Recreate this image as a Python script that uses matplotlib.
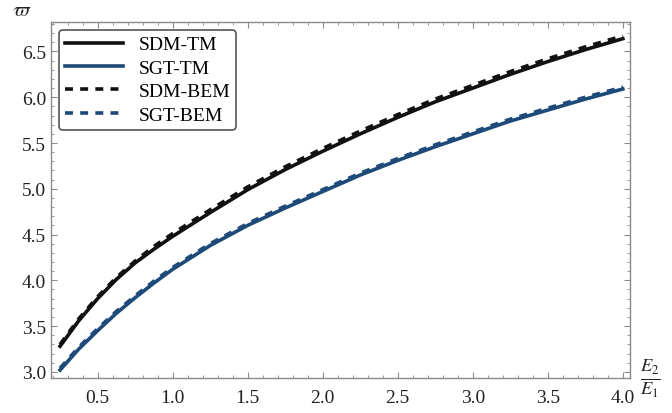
import numpy as np
import matplotlib
import matplotlib.pyplot as plt
from matplotlib.ticker import MultipleLocator

matplotlib.use("Agg")

plt.rcParams['font.family'] = ['Liberation Serif', 'DejaVu Serif']
plt.rcParams['mathtext.fontset'] = 'stix'

# values
ratio = [0.25, 0.375, 0.5, 0.625, 0.75, 0.875, 1.0, 1.25, 1.5, 1.75, 2.0, 2.25, 2.5, 2.75, 3.0, 3.25, 3.5, 3.75, 4.0]
sdm_tm = [3.28, 3.56, 3.80, 4.01, 4.19, 4.34, 4.48, 4.74, 4.99, 5.21, 5.41, 5.60, 5.78, 5.95, 6.10, 6.25, 6.39, 6.52, 6.64]
sgt_tm = [3.02, 3.25, 3.45, 3.64, 3.81, 3.97, 4.12, 4.38, 4.60, 4.79, 4.97, 5.15, 5.31, 5.46, 5.60, 5.74, 5.86, 5.98, 6.09]
sdm_bem = [3.30, 3.58, 3.82, 4.03, 4.21, 4.37, 4.51, 4.77, 5.02, 5.24, 5.44, 5.63, 5.81, 5.98, 6.13, 6.28, 6.42, 6.55, 6.67]
sgt_bem = [3.04, 3.27, 3.47, 3.66, 3.83, 3.99, 4.14, 4.40, 4.62, 4.81, 4.99, 5.17, 5.33, 5.48, 5.62, 5.76, 5.88, 6.00, 6.11]

black = '#111111'
blue = '#1d4a78'

fig = plt.figure(figsize=(6.72, 4.14), dpi=100)
ax = fig.add_axes([0.076, 0.085, 0.862, 0.859])

ax.plot(ratio, sdm_tm, color=black, lw=2.6, label='SDM-TM')
ax.plot(ratio, sgt_tm, color=blue, lw=2.6, label='SGT-TM')
ax.plot(ratio, sdm_bem, color=black, lw=2.6, ls=(0, (2.2, 2.0)), label='SDM-BEM')
ax.plot(ratio, sgt_bem, color=blue, lw=2.6, ls=(0, (2.2, 2.0)), label='SGT-BEM')

ax.set_xlim(0.19, 4.05)
ax.set_ylim(2.935, 6.82)
ax.xaxis.set_major_locator(MultipleLocator(0.5))
ax.xaxis.set_minor_locator(MultipleLocator(0.1))
ax.yaxis.set_major_locator(MultipleLocator(0.5))
ax.yaxis.set_minor_locator(MultipleLocator(0.1))

for s in ax.spines.values():
    s.set_color('#8a8a8a')
    s.set_linewidth(1.0)
ax.tick_params(which='both', direction='in', colors='#8a8a8a', labelcolor='#222222',
               labelsize=14, top=True, right=True)
ax.tick_params(which='major', length=4)
ax.tick_params(which='minor', length=2)
ax.tick_params(axis='x', pad=8)

ax.text(-0.05, 1.032, r'$\varpi$', transform=ax.transAxes, fontsize=15,
        ha='center', va='center', color='#222222')
ax.text(1.035, 0.0, r'$\frac{E_2}{E_1}$', transform=ax.transAxes, fontsize=19,
        ha='center', va='center', color='#222222')

leg = ax.legend(loc='upper left', fontsize=14, frameon=True, fancybox=True,
                handlelength=3.0, borderpad=0.3, labelspacing=0.3,
                handletextpad=0.8, borderaxespad=0.4)
leg.get_frame().set_edgecolor('#555555')
leg.get_frame().set_linewidth(1.2)
leg.get_frame().set_alpha(1.0)

fig.savefig('out.png', dpi=100)
